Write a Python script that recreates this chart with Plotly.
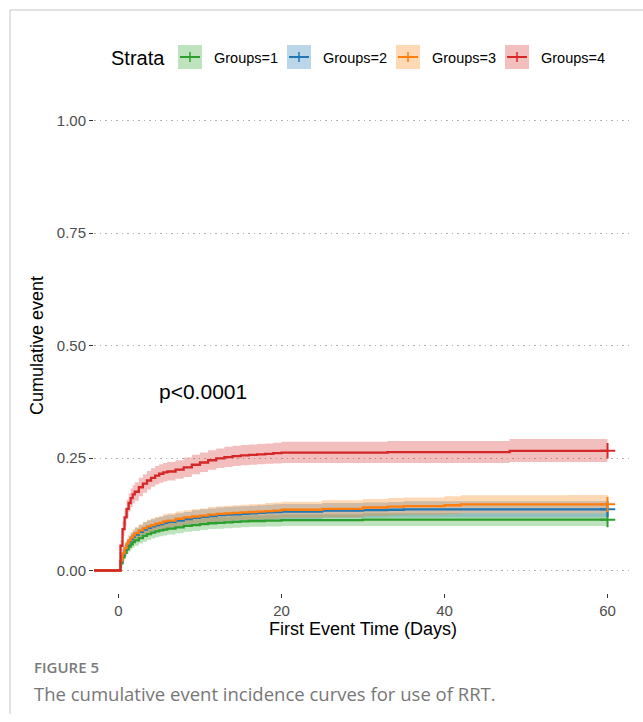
import plotly.graph_objects as go

# ---------------- data ----------------
times = [-3, 0, 0.25, 0.5, 0.75, 1, 1.25, 1.5, 1.75, 2, 2.5, 3, 3.5, 4, 4.5, 5, 5.5, 6,
         7, 8, 9, 10, 11, 12, 13, 14, 15, 16, 17, 18, 19, 20,
         25, 30, 33, 35, 40, 42, 48, 55, 60]

g1_est = [0, 0, 0.016, 0.029, 0.039, 0.047, 0.053, 0.058, 0.063, 0.067, 0.072, 0.077, 0.081, 0.084,
          0.087, 0.089, 0.091, 0.093, 0.096, 0.099, 0.101, 0.103, 0.105, 0.106, 0.107, 0.108, 0.109,
          0.110, 0.110, 0.111, 0.111, 0.112, 0.112, 0.113, 0.113, 0.113, 0.113, 0.113, 0.113, 0.113,
          0.113]
g1_low = [0, 0, 0.010, 0.021, 0.030, 0.037, 0.042, 0.047, 0.051, 0.055, 0.060, 0.064, 0.068, 0.071,
          0.074, 0.076, 0.078, 0.080, 0.083, 0.086, 0.088, 0.090, 0.092, 0.093, 0.094, 0.095, 0.096,
          0.097, 0.097, 0.098, 0.098, 0.099, 0.099, 0.099, 0.099, 0.099, 0.099, 0.099, 0.099, 0.099,
          0.099]
g1_up = [0, 0, 0.022, 0.037, 0.048, 0.057, 0.064, 0.069, 0.075, 0.079, 0.084, 0.090, 0.094, 0.097,
         0.100, 0.102, 0.104, 0.106, 0.109, 0.112, 0.114, 0.116, 0.118, 0.119, 0.120, 0.121, 0.122,
         0.123, 0.123, 0.124, 0.124, 0.125, 0.125, 0.127, 0.127, 0.127, 0.127, 0.127, 0.127, 0.127,
         0.127]

g2_est = [0, 0, 0.020, 0.035, 0.047, 0.057, 0.064, 0.070, 0.075, 0.080, 0.086, 0.091, 0.095, 0.098,
          0.101, 0.103, 0.106, 0.108, 0.111, 0.114, 0.117, 0.119, 0.121, 0.123, 0.124, 0.125, 0.126,
          0.127, 0.128, 0.129, 0.130, 0.131, 0.133, 0.134, 0.135, 0.136, 0.136, 0.136, 0.136, 0.136,
          0.136]
g2_low = [0, 0, 0.013, 0.026, 0.036, 0.045, 0.051, 0.056, 0.061, 0.065, 0.071, 0.075, 0.079, 0.082,
          0.085, 0.087, 0.090, 0.092, 0.095, 0.098, 0.100, 0.102, 0.104, 0.106, 0.107, 0.108, 0.109,
          0.110, 0.111, 0.112, 0.113, 0.114, 0.116, 0.117, 0.118, 0.118, 0.118, 0.118, 0.118, 0.118,
          0.118]
g2_up = [0, 0, 0.027, 0.044, 0.058, 0.069, 0.077, 0.084, 0.089, 0.095, 0.101, 0.107, 0.111, 0.114,
         0.117, 0.119, 0.122, 0.124, 0.127, 0.130, 0.134, 0.136, 0.138, 0.140, 0.141, 0.142, 0.143,
         0.144, 0.145, 0.146, 0.147, 0.148, 0.150, 0.151, 0.152, 0.154, 0.154, 0.154, 0.154, 0.154,
         0.154]

g3_est = [0, 0, 0.022, 0.038, 0.050, 0.060, 0.067, 0.073, 0.078, 0.083, 0.089, 0.094, 0.098, 0.101,
          0.104, 0.106, 0.109, 0.111, 0.115, 0.118, 0.120, 0.122, 0.124, 0.126, 0.127, 0.128, 0.129,
          0.130, 0.131, 0.132, 0.133, 0.135, 0.137, 0.140, 0.142, 0.143, 0.145, 0.147, 0.147, 0.147,
          0.147]
g3_low = [0, 0, 0.015, 0.029, 0.040, 0.049, 0.055, 0.061, 0.065, 0.070, 0.075, 0.080, 0.083, 0.086,
          0.089, 0.091, 0.093, 0.095, 0.099, 0.102, 0.104, 0.106, 0.107, 0.109, 0.110, 0.111, 0.112,
          0.113, 0.114, 0.114, 0.115, 0.117, 0.118, 0.121, 0.123, 0.124, 0.125, 0.127, 0.127, 0.127,
          0.127]
g3_up = [0, 0, 0.029, 0.047, 0.060, 0.071, 0.079, 0.085, 0.091, 0.096, 0.103, 0.108, 0.113, 0.116,
         0.119, 0.121, 0.125, 0.127, 0.131, 0.134, 0.136, 0.138, 0.141, 0.143, 0.144, 0.145, 0.146,
         0.147, 0.148, 0.150, 0.151, 0.153, 0.156, 0.159, 0.161, 0.162, 0.165, 0.167, 0.167, 0.168,
         0.168]

g4_est = [0, 0, 0.055, 0.092, 0.118, 0.137, 0.150, 0.161, 0.169, 0.175, 0.185, 0.193, 0.200, 0.206,
          0.211, 0.215, 0.218, 0.220, 0.224, 0.229, 0.235, 0.240, 0.245, 0.249, 0.252, 0.254, 0.256,
          0.257, 0.258, 0.259, 0.261, 0.262, 0.262, 0.262, 0.263, 0.263, 0.263, 0.263, 0.266, 0.266,
          0.266]
g4_low = [0, 0, 0.043, 0.076, 0.100, 0.118, 0.131, 0.141, 0.149, 0.155, 0.165, 0.173, 0.180, 0.186,
          0.191, 0.195, 0.198, 0.200, 0.204, 0.208, 0.214, 0.219, 0.224, 0.228, 0.230, 0.232, 0.234,
          0.235, 0.236, 0.237, 0.238, 0.239, 0.239, 0.239, 0.239, 0.239, 0.239, 0.239, 0.241, 0.241,
          0.241]
g4_up = [0, 0, 0.068, 0.109, 0.137, 0.157, 0.171, 0.182, 0.190, 0.196, 0.206, 0.214, 0.221, 0.227,
         0.232, 0.236, 0.239, 0.241, 0.245, 0.251, 0.257, 0.262, 0.267, 0.271, 0.275, 0.277, 0.279,
         0.280, 0.281, 0.282, 0.284, 0.286, 0.286, 0.286, 0.288, 0.288, 0.288, 0.288, 0.292, 0.292,
         0.292]

groups = ["Groups=1", "Groups=2", "Groups=3", "Groups=4"]
estimates = [g1_est, g2_est, g3_est, g4_est]
lowers = [g1_low, g2_low, g3_low, g4_low]
uppers = [g1_up, g2_up, g3_up, g4_up]
censor_time = [60, 60, 60, 60]

for s in estimates + lowers + uppers:
    assert len(s) == len(times), len(s)

y_ticks = [0, 0.25, 0.5, 0.75, 1.0]
y_tick_text = ["0.00", "0.25", "0.50", "0.75", "1.00"]
x_ticks = [0, 20, 40, 60]

colors = ["#2CA02C", "#1F77B4", "#FF7F0E", "#D62728"]
fills = ["rgba(44,160,44,0.3)", "rgba(31,119,180,0.3)", "rgba(255,127,14,0.3)", "rgba(214,39,40,0.3)"]

# ---------------- layout geometry ----------------
W, H = 643, 722
L, R, T, B = 94, 11, 98, 129
PW, PH = W - L - R, H - T - B


def px(x):
    return (x - L) / PW


def py(y):
    return (H - B - y) / PH


fig = go.Figure()

# confidence ribbons
for i in range(4):
    fig.add_trace(go.Scatter(x=times, y=lowers[i], mode="lines", line=dict(width=0, shape="hv"),
                             hoverinfo="skip", showlegend=False))
    fig.add_trace(go.Scatter(x=times, y=uppers[i], mode="lines", line=dict(width=0, shape="hv"),
                             fill="tonexty", fillcolor=fills[i], hoverinfo="skip", showlegend=False))

# step curves
for i in range(4):
    fig.add_trace(go.Scatter(x=times, y=estimates[i], mode="lines", name=groups[i],
                             line=dict(color=colors[i], width=2.3, shape="hv"), showlegend=False))

# censor marks
for i in range(4):
    fig.add_trace(go.Scatter(x=[censor_time[i]], y=[estimates[i][-1]], mode="markers",
                             marker=dict(symbol="cross-thin", size=11,
                                         line=dict(color=colors[i], width=2)),
                             showlegend=False, hoverinfo="skip"))

shapes = []
annotations = []

# frame lines (figure border)
shapes.append(dict(type="line", xref="paper", yref="paper", x0=px(10), x1=px(643), y0=py(10), y1=py(10),
                   line=dict(color="#c8c8c8", width=1)))
shapes.append(dict(type="line", xref="paper", yref="paper", x0=px(10), x1=px(10), y0=py(10), y1=py(714),
                   line=dict(color="#c8c8c8", width=1)))

# custom legend
annotations.append(dict(xref="paper", yref="paper", x=px(109), y=py(58), text="Strata", showarrow=False,
                        xanchor="left", yanchor="middle", font=dict(size=20, color="black")))
key_left = [178, 287, 396, 505]
for i in range(4):
    x0 = key_left[i]
    shapes.append(dict(type="rect", xref="paper", yref="paper", x0=px(x0), x1=px(x0 + 24),
                       y0=py(69), y1=py(45), fillcolor=fills[i], line=dict(width=0)))
    shapes.append(dict(type="line", xref="paper", yref="paper", x0=px(x0 + 2), x1=px(x0 + 22),
                       y0=py(57), y1=py(57), line=dict(color=colors[i], width=2)))
    shapes.append(dict(type="line", xref="paper", yref="paper", x0=px(x0 + 12), x1=px(x0 + 12),
                       y0=py(52), y1=py(62), line=dict(color=colors[i], width=1.5)))
    annotations.append(dict(xref="paper", yref="paper", x=px(x0 + 34), y=py(58), text=groups[i],
                            showarrow=False, xanchor="left", yanchor="middle",
                            font=dict(size=14.5, color="black")))

# p-value
annotations.append(dict(xref="x", yref="y", x=4.7, y=0.398, text="p<0.0001", showarrow=False,
                        xanchor="left", yanchor="middle", font=dict(size=21, color="black")))

# caption
annotations.append(dict(xref="paper", yref="paper", x=px(32), y=py(679), text="FIGURE 5", showarrow=False,
                        xanchor="left", yanchor="bottom",
                        font=dict(family="Open Sans", size=15, color="#7a7a7a", weight=600)))
annotations.append(dict(xref="paper", yref="paper", x=px(32), y=py(679),
                        text="The cumulative event incidence curves for use of RRT.", showarrow=False,
                        xanchor="left", yanchor="top",
                        font=dict(family="Open Sans", size=18.5, color="#777777")))

fig.update_layout(
    width=W, height=H, autosize=False,
    margin=dict(l=L, r=R, t=T, b=B, pad=0),
    paper_bgcolor="white", plot_bgcolor="white",
    font=dict(family="Liberation Sans, Arial, sans-serif", color="black"),
    shapes=shapes, annotations=annotations,
    showlegend=False,
    xaxis=dict(range=[-3, 63], tickvals=x_ticks, showgrid=False, zeroline=False, showline=False,
               ticks="outside", ticklen=4, tickwidth=1, tickcolor="#333333",
               tickfont=dict(size=15, color="#4d4d4d"),
               title=dict(text="First Event Time (Days)", font=dict(size=18, color="black"), standoff=3)),
    yaxis=dict(range=[-0.05, 1.05], tickvals=y_ticks, ticktext=y_tick_text, showgrid=True,
               gridcolor="#b0b0b0", griddash="1.5px,4px", gridwidth=1.2, zeroline=False, showline=False,
               ticks="outside", ticklen=4, tickwidth=1, tickcolor="#333333",
               tickfont=dict(size=15, color="#4d4d4d"),
               title=dict(text="Cumulative event", font=dict(size=18, color="black"), standoff=8)),
)

fig.write_html("out.html")
